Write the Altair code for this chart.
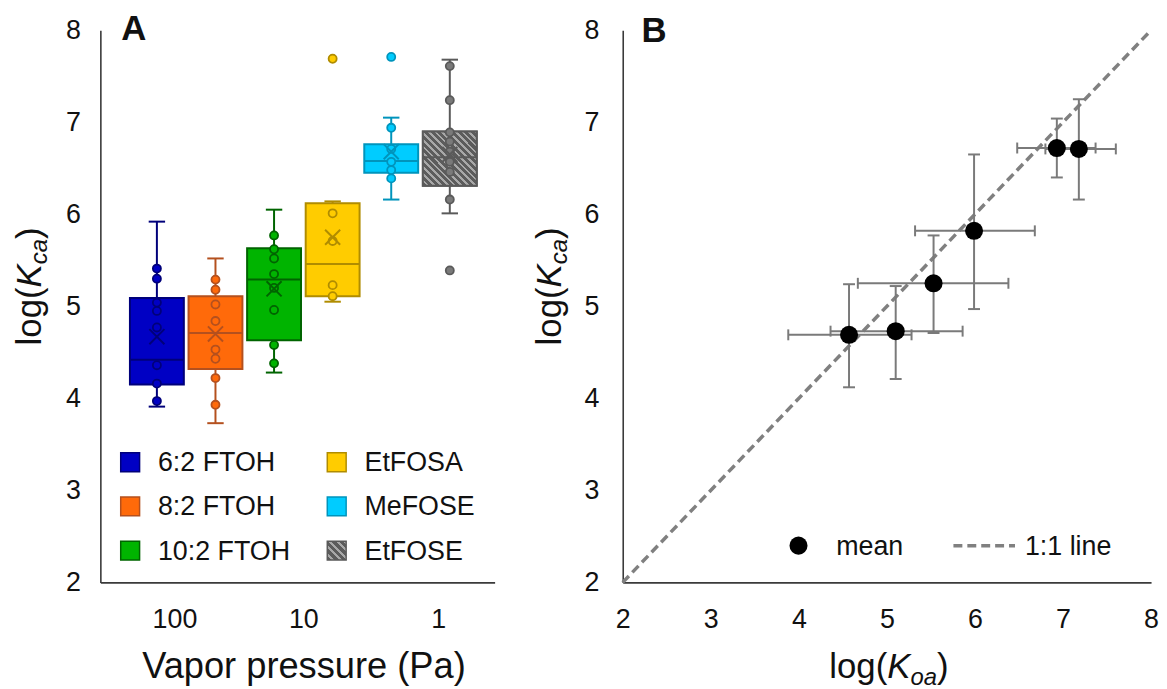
import altair as alt
import pandas as pd

# ---------------- data: panel A (box plots) ----------------
compounds = ["6:2 FTOH", "8:2 FTOH", "10:2 FTOH", "EtFOSA", "MeFOSE", "EtFOSE"]
box_position = [1, 2, 3, 4, 5, 6]
whisker_low = [3.91, 3.73, 4.28, 5.05, 6.16, 6.01]
q1 = [4.15, 4.32, 4.63, 5.11, 6.45, 6.31]
median = [4.42, 4.71, 5.29, 5.46, 6.58, 6.62]
q3 = [5.09, 5.11, 5.63, 6.12, 6.76, 6.90]
whisker_high = [5.92, 5.52, 6.05, 6.14, 7.05, 7.68]
mean_kca = [4.67, 4.70, 5.19, 5.75, 6.68, 6.65]

points_62_ftoh = [5.41, 5.30, 5.04, 4.95, 4.77, 4.36, 4.16, 3.97]
points_82_ftoh = [5.29, 5.18, 5.02, 4.84, 4.53, 4.43, 4.22, 3.93]
points_102_ftoh = [5.77, 5.62, 5.52, 5.35, 5.20, 4.96, 4.58, 4.38]
points_etfosa = [7.69, 6.01, 5.71, 5.23, 5.11]
points_mefose = [7.71, 6.94, 6.71, 6.57, 6.48, 6.39]
points_etfose = [7.61, 7.24, 6.89, 6.79, 6.68, 6.57, 6.46, 6.16, 5.39]

vp_tick_values = [1.3, 3.5, 5.8]
vp_tick_labels = ["100", "10", "1"]
kca_ticks = [2, 3, 4, 5, 6, 7, 8]

# ---------------- data: panel B (means with error bars) ----------------
koa_mean = [4.57, 5.10, 5.53, 5.99, 6.93, 7.18]
koa_low = [3.88, 4.36, 4.67, 5.32, 6.48, 6.80]
koa_high = [5.28, 5.86, 6.38, 6.68, 7.37, 7.60]
kca_mean = [4.69, 4.73, 5.25, 5.82, 6.72, 6.71]
kca_low = [4.12, 4.21, 4.71, 4.97, 6.40, 6.16]
kca_high = [5.24, 5.22, 5.77, 6.65, 7.04, 7.25]
koa_ticks = [2, 3, 4, 5, 6, 7, 8]
one_to_one = [2, 8]

# ---------------- styles ----------------
FONT = "Liberation Sans"
fill_colors = ["#0000C4", "#FF6A0A", "#00B400", "#FFCC00", "#00CCFF", "#7A7A7A"]
edge_colors = ["#00007A", "#B4501E", "#006400", "#B08C00", "#0094BC", "#5A5A5A"]
W_A, W_B, H = 397, 532, 556
TICK_FS, LEG_FS, TITLE_FS = 27, 27, 35
VTITLE_CENTER = 258


def stripes(n, dark, light):
    stops = []
    for k in range(n):
        a, b, c = k / n, (k + 0.6) / n, (k + 1) / n
        stops += [
            {"offset": a, "color": dark},
            {"offset": b, "color": dark},
            {"offset": b, "color": light},
            {"offset": c, "color": light},
        ]
    return {"gradient": "linear", "x1": 0, "y1": 1, "x2": 1, "y2": 0, "stops": stops}


HATCH_BOX = stripes(16, "#5c5c5c", "#a8a8a8")
HATCH_KEY = stripes(5, "#5c5c5c", "#a8a8a8")

dummy = pd.DataFrame({"_": [0]})

axis_common = dict(
    domainColor="#3a3a3a", domainWidth=1.6, ticks=False, tickSize=0, grid=False,
    labelFont=FONT, labelFontSize=TICK_FS, labelColor="#111111", title=None,
    labelFlush=False,
)

# ---------------- panel A ----------------
box_df = pd.DataFrame({
    "compound": compounds, "pos": box_position, "lo": whisker_low, "q1": q1,
    "med": median, "q3": q3, "hi": whisker_high, "mean": mean_kca,
})
point_lists = [points_62_ftoh, points_82_ftoh, points_102_ftoh,
               points_etfosa, points_mefose, points_etfose]
pts_df = pd.concat([
    pd.DataFrame({"compound": name, "pos": p, "value": vals})
    for name, p, vals in zip(compounds, box_position, point_lists)
], ignore_index=True)

label_expr = " : ".join(
    f"datum.value == {v} ? '{t}'" for v, t in zip(vp_tick_values, vp_tick_labels)
) + " : ''"

scaleA_x = alt.Scale(domain=[0.035, 6.765], nice=False, zero=False)
scale_y = alt.Scale(domain=[2, 8], nice=False, zero=False)
axisA_x = alt.Axis(values=vp_tick_values, labelExpr=label_expr, labelPadding=24, **axis_common)
axisA_y = alt.Axis(values=kca_ticks, labelPadding=20, **axis_common)


def XA(field):
    return alt.X(f"{field}:Q", scale=scaleA_x, axis=axisA_x)


def YA(field):
    return alt.Y(f"{field}:Q", scale=scale_y, axis=axisA_y)


FILL = alt.Fill("compound:N", scale=alt.Scale(domain=compounds, range=fill_colors), legend=None)
STROKE = alt.Stroke("compound:N", scale=alt.Scale(domain=compounds, range=edge_colors), legend=None)

boxbase = alt.Chart(box_df).transform_calculate(
    bl="datum.pos - 0.46", br="datum.pos + 0.46",
    cl="datum.pos - 0.14", cr="datum.pos + 0.14",
)

whisk_lo = boxbase.mark_rule(strokeWidth=2).encode(x=XA("pos"), y=YA("lo"), y2="q1", stroke=STROKE)
whisk_hi = boxbase.mark_rule(strokeWidth=2).encode(x=XA("pos"), y=YA("q3"), y2="hi", stroke=STROKE)
cap_lo = boxbase.mark_rule(strokeWidth=2).encode(x=XA("cl"), x2="cr", y=YA("lo"), stroke=STROKE)
cap_hi = boxbase.mark_rule(strokeWidth=2).encode(x=XA("cl"), x2="cr", y=YA("hi"), stroke=STROKE)
boxes = boxbase.mark_rect(strokeWidth=2).encode(
    x=XA("bl"), x2="br", y=YA("q1"), y2="q3", fill=FILL, stroke=STROKE)
hatch = boxbase.transform_filter(alt.datum.compound == "EtFOSE").mark_rect(
    fill=HATCH_BOX, stroke="#5a5a5a", strokeWidth=2).encode(
    x=XA("bl"), x2="br", y=YA("q1"), y2="q3")
med_line = boxbase.mark_rule(strokeWidth=2).encode(x=XA("bl"), x2="br", y=YA("med"), stroke=STROKE)
pts = alt.Chart(pts_df).mark_point(shape="circle", filled=True, size=66, strokeWidth=1.8, opacity=1).encode(
    x=XA("pos"), y=YA("value"), fill=FILL, stroke=STROKE)
means = boxbase.mark_point(shape="M-1,-1L1,1M1,-1L-1,1", filled=False, size=230, strokeWidth=2, opacity=1).encode(
    x=XA("pos"), y=YA("mean"), stroke=STROKE)

layersA = [whisk_lo, whisk_hi, cap_lo, cap_hi, boxes, hatch, med_line, pts, means]

# legend of panel A (two columns of three)
for i, name in enumerate(compounds):
    col, row = i // 3, i % 3
    sx = 30 + col * 208
    sy = 435 + row * 44.5
    sq_fill = HATCH_KEY if name == "EtFOSE" else fill_colors[i]
    layersA.append(alt.Chart(dummy).mark_square(
        size=361, fill=sq_fill, stroke=edge_colors[i], strokeWidth=1.5, opacity=1).encode(
        x=alt.value(sx), y=alt.value(sy)))
    layersA.append(alt.Chart(dummy).mark_text(
        text=name, align="left", baseline="middle", font=FONT, fontSize=LEG_FS, color="#111111").encode(
        x=alt.value(sx + 28), y=alt.value(sy + 1)))

# panel letter, x title
layersA.append(alt.Chart(dummy).mark_text(
    text="A", align="left", baseline="alphabetic", font=FONT, fontSize=35, fontWeight="bold",
    color="#111111").encode(x=alt.value(21), y=alt.value(10)))
layersA.append(alt.Chart(dummy).mark_text(
    text="Vapor pressure (Pa)", align="center", baseline="alphabetic", font=FONT,
    fontSize=36.5, color="#111111").encode(x=alt.value(205), y=alt.value(652)))


def vertical_title(x_base, sub):
    """log(K_sub) rotated to read bottom-to-top; pieces placed by Arial advance widths."""
    fs, sfs = TITLE_FS, 24
    w_log, w_k, w_par = 1.667 * fs, 0.667 * fs, 0.333 * fs
    w_sub = 1.056 * sfs if sub == "ca" else 1.112 * sfs
    total = w_log + w_k + w_sub + w_par
    y0 = VTITLE_CENTER + total / 2
    pieces = [
        ("log(", fs, "normal", x_base, y0),
        ("K", fs, "italic", x_base, y0 - w_log),
        (sub, sfs, "italic", x_base + 6, y0 - w_log - w_k),
        (")", fs, "normal", x_base, y0 - w_log - w_k - w_sub),
    ]
    out = []
    for txt, size, style, px, py in pieces:
        out.append(alt.Chart(dummy).mark_text(
            text=txt, angle=270, align="left", baseline="alphabetic", font=FONT,
            fontSize=size, fontStyle=style, color="#111111").encode(
            x=alt.value(px), y=alt.value(py)))
    return out


def horizontal_title(x_start, y_base, sub):
    fs, sfs = TITLE_FS, 24
    w_log, w_k = 1.667 * fs, 0.667 * fs
    w_sub = 1.112 * sfs
    pieces = [
        ("log(", fs, "normal", x_start, y_base),
        ("K", fs, "italic", x_start + w_log, y_base),
        (sub, sfs, "italic", x_start + w_log + w_k, y_base + 7),
        (")", fs, "normal", x_start + w_log + w_k + w_sub, y_base),
    ]
    out = []
    for txt, size, style, px, py in pieces:
        out.append(alt.Chart(dummy).mark_text(
            text=txt, align="left", baseline="alphabetic", font=FONT,
            fontSize=size, fontStyle=style, color="#111111").encode(
            x=alt.value(px), y=alt.value(py)))
    return out


layersA += vertical_title(-60, "ca")
panelA = alt.layer(*layersA).properties(width=W_A, height=H)

# ---------------- panel B ----------------
b_df = pd.DataFrame({
    "koa": koa_mean, "koa_lo": koa_low, "koa_hi": koa_high,
    "kca": kca_mean, "kca_lo": kca_low, "kca_hi": kca_high,
})
line_df = pd.DataFrame({"x": one_to_one, "y": one_to_one})

scaleB_x = alt.Scale(domain=[2, 8], nice=False, zero=False)
axisB_x = alt.Axis(values=koa_ticks, labelPadding=24, **axis_common)
axisB_y = alt.Axis(values=kca_ticks, labelPadding=24, **axis_common)


def XB(field):
    return alt.X(f"{field}:Q", scale=scaleB_x, axis=axisB_x)


def YB(field):
    return alt.Y(f"{field}:Q", scale=scale_y, axis=axisB_y)


ERR = "#7a7a7a"
bbase = alt.Chart(b_df)
diag = alt.Chart(line_df).mark_line(color="#808080", strokeWidth=3.5, strokeDash=[9, 5]).encode(
    x=XB("x"), y=YB("y"))
h_err = bbase.mark_rule(color=ERR, strokeWidth=2).encode(x=XB("koa_lo"), x2="koa_hi", y=YB("kca"))
v_err = bbase.mark_rule(color=ERR, strokeWidth=2).encode(x=XB("koa"), y=YB("kca_lo"), y2="kca_hi")
h_cap_lo = bbase.mark_tick(color=ERR, orient="vertical", size=11, thickness=2, opacity=1).encode(
    x=XB("koa_lo"), y=YB("kca"))
h_cap_hi = bbase.mark_tick(color=ERR, orient="vertical", size=11, thickness=2, opacity=1).encode(
    x=XB("koa_hi"), y=YB("kca"))
v_cap_lo = bbase.mark_tick(color=ERR, orient="horizontal", size=12, thickness=2, opacity=1).encode(
    x=XB("koa"), y=YB("kca_lo"))
v_cap_hi = bbase.mark_tick(color=ERR, orient="horizontal", size=12, thickness=2, opacity=1).encode(
    x=XB("koa"), y=YB("kca_hi"))
dots = bbase.mark_circle(color="#000000", size=330, opacity=1).encode(x=XB("koa"), y=YB("kca"))

layersB = [diag, h_err, v_err, h_cap_lo, h_cap_hi, v_cap_lo, v_cap_hi, dots]
layersB.append(alt.Chart(dummy).mark_circle(color="#000000", size=330, opacity=1).encode(
    x=alt.value(177), y=alt.value(519)))
layersB.append(alt.Chart(dummy).mark_text(
    text="mean", align="left", baseline="middle", font=FONT, fontSize=LEG_FS, color="#111111").encode(
    x=alt.value(215), y=alt.value(520)))
layersB.append(alt.Chart(dummy).mark_rule(color="#808080", strokeWidth=3.5, strokeDash=[9, 5]).encode(
    x=alt.value(333), x2=alt.value(395), y=alt.value(519)))
layersB.append(alt.Chart(dummy).mark_text(
    text="1:1 line", align="left", baseline="middle", font=FONT, fontSize=LEG_FS, color="#111111").encode(
    x=alt.value(405), y=alt.value(520)))
layersB.append(alt.Chart(dummy).mark_text(
    text="B", align="left", baseline="alphabetic", font=FONT, fontSize=35, fontWeight="bold",
    color="#111111").encode(x=alt.value(19), y=alt.value(12)))
layersB += vertical_title(-62, "ca")
layersB += horizontal_title(208, 652, "oa")

panelB = alt.layer(*layersB).properties(width=W_B, height=H)

chart = alt.hconcat(panelA, panelB, spacing=38).properties(
    padding={"left": 4, "top": 2, "right": 0, "bottom": 0},
    background="white",
).configure_view(stroke=None)

chart.save("out.html", embed_options={"renderer": "svg", "actions": False})
